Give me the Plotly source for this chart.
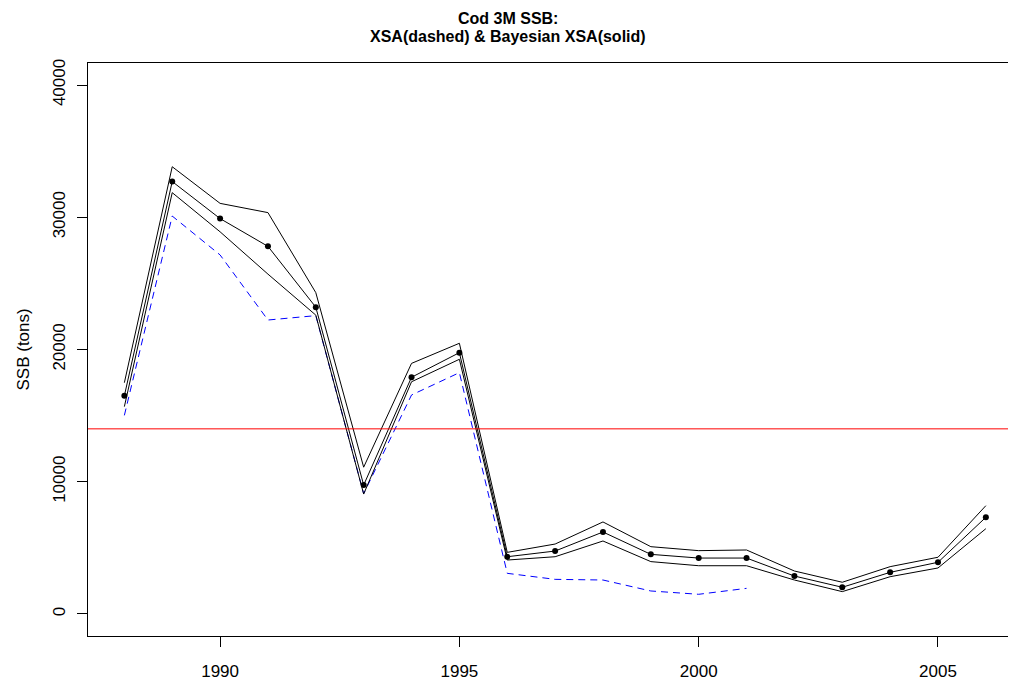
import plotly.graph_objects as go

years = list(range(1988, 2007))
bxsa_median = [16500, 32700, 29900, 27800, 23200, 9750, 17900, 19760, 4330, 4760,
               6200, 4510, 4230, 4230, 2870, 2020, 3150, 3910, 7310]
bxsa_upper = [17490, 33820, 31050, 30350, 24300, 11100, 18950, 20470, 4660, 5290,
              6960, 5090, 4790, 4840, 3250, 2400, 3580, 4290, 8190]
bxsa_lower = [15680, 31860, 28900, 25700, 22600, 9070, 17560, 19260, 4080, 4330,
              5520, 3960, 3650, 3650, 2570, 1690, 2820, 3480, 6450]
xsa_years = list(range(1988, 2002))
xsa_ssb = [15020, 30090, 27150, 22230, 22560, 9100, 16560, 18250, 3075, 2620,
           2570, 1740, 1490, 1940]
ref_level = 14000

x_ticks = [1990, 1995, 2000, 2005]
y_ticks = [0, 10000, 20000, 30000, 40000]
title_lines = ["Cod 3M SSB:", "XSA(dashed) & Bayesian XSA(solid)"]
y_title = "SSB (tons)"

FONT = "Liberation Sans, Arial, sans-serif"

W, H = 1008, 677
ML, MT, MB, MR = 80, 55, 49, 0
PW, PH = W - ML - MR, H - MT - MB

fig = go.Figure()
fig.add_trace(go.Scatter(x=xsa_years, y=xsa_ssb, mode="lines",
                         line=dict(color="#0000ff", width=1, dash="7px,5px")))
fig.add_trace(go.Scatter(x=years, y=bxsa_upper, mode="lines",
                         line=dict(color="black", width=1)))
fig.add_trace(go.Scatter(x=years, y=bxsa_lower, mode="lines",
                         line=dict(color="black", width=1)))
fig.add_trace(go.Scatter(x=years, y=bxsa_median, mode="lines+markers",
                         line=dict(color="black", width=1),
                         marker=dict(color="black", size=6)))
fig.add_hline(y=ref_level, line=dict(color="#ff0000", width=1), layer="above")

# title lines, centred on the page
title_cx = 500
for txt, cy in zip(title_lines, [10, 28]):
    fig.add_annotation(text="<b>%s</b>" % txt, xref="paper", yref="paper",
                       x=(title_cx - ML) / PW, y=1 + (MT - cy) / PH,
                       xanchor="center", yanchor="middle", showarrow=False,
                       font=dict(family=FONT, size=16, color="black"))

# y axis title
fig.add_annotation(text=y_title, xref="paper", yref="paper",
                   x=(15 - ML) / PW, y=0.5, xanchor="center", yanchor="middle",
                   textangle=-90, showarrow=False,
                   font=dict(family=FONT, size=17, color="black"))

fig.update_layout(
    width=W, height=H,
    margin=dict(l=ML, r=MR, t=MT, b=MB),
    paper_bgcolor="white", plot_bgcolor="white",
    showlegend=False,
    font=dict(family=FONT, size=17, color="black"),
    xaxis=dict(range=[1987.24, 2006.63], tickvals=x_ticks,
               ticktext=[str(v) for v in x_ticks], ticks="outside",
               ticklen=10, tickcolor="black", showgrid=False, zeroline=False,
               showline=True, linecolor="black", linewidth=1, mirror=True,
               ticklabelstandoff=10, tickfont=dict(size=17)),
    yaxis=dict(range=[-1664, 41664], tickvals=y_ticks,
               ticktext=[str(v) for v in y_ticks], ticks="outside",
               ticklen=10, tickcolor="black", showgrid=False, zeroline=False,
               showline=True, linecolor="black", linewidth=1, mirror=False,
               tickangle=-90, ticklabelstandoff=5, tickfont=dict(size=17)),
)

fig.write_html("out.html")
